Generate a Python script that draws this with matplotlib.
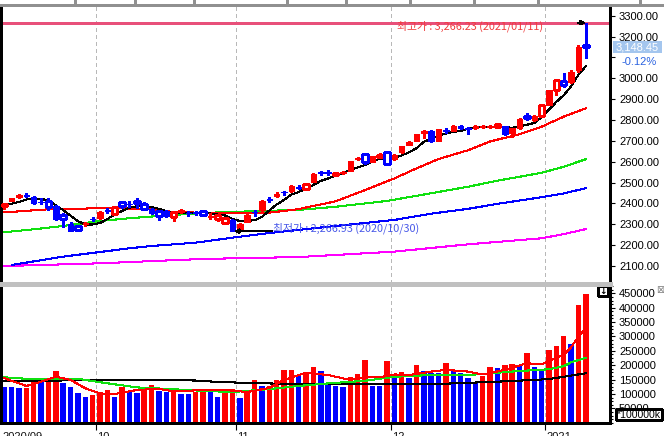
import matplotlib
matplotlib.use("Agg")
import matplotlib.pyplot as plt
import numpy as np
from matplotlib.patches import Rectangle
from matplotlib.lines import Line2D
from matplotlib.ticker import FuncFormatter, MultipleLocator
from matplotlib import transforms as mtransforms

# ---------------- data ----------------
month_labels = ['2020/09', '10', '11', '12', '2021']
month_counts = [13, 19, 21, 21, 6]

open_ = [2386, 2413, 2431, 2441, 2432, 2408, 2410, 2388, 2345, 2300,
         2293, 2302, 2327, 2329, 2368, 2348, 2405, 2398, 2413, 2397,
         2373, 2364, 2359, 2336, 2360, 2354, 2357, 2365, 2336, 2327,
         2308, 2321, 2273, 2313, 2359, 2368, 2420, 2436, 2456, 2459,
         2480, 2469, 2505, 2550, 2552, 2537, 2544, 2557, 2612, 2637,
         2600, 2621, 2648, 2612, 2645, 2680, 2701, 2736, 2746, 2701,
         2750, 2749, 2770, 2763, 2760, 2767, 2768, 2765, 2771, 2736,
         2760, 2819, 2800, 2820, 2874, 2943, 2988, 2980, 3040, 3161.90]
high = [2398, 2427, 2447, 2449, 2437, 2424, 2424, 2393, 2355, 2312,
        2294, 2312, 2334, 2362, 2378, 2388, 2407, 2410, 2424, 2405,
        2378, 2369, 2369, 2360, 2375, 2365, 2366, 2370, 2353, 2350,
        2333, 2324, 2305, 2347, 2368, 2415, 2430, 2455, 2462, 2487,
        2490, 2495, 2545, 2556, 2558, 2552, 2556, 2605, 2625, 2640,
        2628, 2640, 2650, 2636, 2677, 2698, 2734, 2750, 2750, 2757,
        2762, 2775, 2775, 2766, 2775, 2775, 2777, 2785, 2773, 2762,
        2808, 2834, 2823, 2875, 2946, 2994, 3024, 3040, 3161, 3266.23]
low = [2372, 2410, 2425, 2431, 2398, 2395, 2370, 2320, 2285, 2268,
       2270, 2293, 2318, 2327, 2352, 2343, 2378, 2385, 2380, 2370,
       2348, 2320, 2336, 2318, 2355, 2339, 2345, 2340, 2324, 2318,
       2305, 2266.93, 2270, 2310, 2340, 2366, 2405, 2432, 2440, 2457,
       2470, 2465, 2503, 2537, 2535, 2530, 2540, 2555, 2608, 2590,
       2598, 2618, 2588, 2610, 2643, 2678, 2699, 2715, 2694, 2699,
       2738, 2747, 2755, 2733, 2757, 2760, 2760, 2762, 2729, 2720,
       2758, 2800, 2797, 2815, 2870, 2921, 2960, 2975, 3030, 3096.19]
close = [2396, 2425, 2442, 2436, 2404, 2405, 2384, 2324, 2324, 2269,
         2273, 2305, 2324, 2360, 2365, 2384, 2389, 2396, 2401, 2375,
         2355, 2341, 2343, 2357, 2370, 2352, 2355, 2344, 2339, 2345,
         2329, 2267.15, 2300, 2343, 2357, 2413, 2416, 2447, 2453, 2485,
         2476, 2492, 2541, 2545, 2547, 2547, 2553, 2603, 2617, 2601,
         2626, 2632, 2591, 2633, 2673, 2696, 2731, 2745, 2700, 2755,
         2746, 2770, 2763, 2757, 2772, 2771, 2772, 2779, 2734, 2760,
         2806, 2808, 2820, 2873, 2944, 2991, 2968, 3031, 3152.18, 3148.45]
# candle drawn hollow (1) or filled (0), as seen
hollow = [1, 0, 0, 0, 0, 0, 1, 0, 1, 0,
          1, 0, 0, 0, 0, 1, 1, 0, 1, 1,
          0, 1, 1, 1, 0, 0, 0, 1, 0, 1,
          1, 0, 0, 0, 0, 0, 0, 0, 0, 0,
          0, 1, 0, 0, 0, 1, 0, 0, 0, 1,
          0, 1, 1, 0, 0, 0, 0, 0, 0, 0,
          0, 0, 0, 0, 0, 0, 0, 1, 0, 0,
          0, 1, 0, 1, 0, 1, 1, 0, 0, 1]
# volume (thousands)
volume = [124, 123, 121, 122, 143, 142, 143, 181, 138, 124,
          103, 91, 97, 107, 114, 91, 125, 109, 104, 110,
          131, 111, 107, 120, 100, 99, 107, 119, 114, 91,
          104, 119, 86, 110, 150, 128, 129, 150, 182, 185,
          166, 173, 195, 180, 139, 128, 124, 159, 170, 218,
          128, 127, 215, 159, 177, 157, 201, 180, 173, 172,
          208, 181, 173, 156, 139, 163, 194, 190, 201, 204,
          201, 243, 194, 181, 253, 267, 302, 274, 409, 448]

# price moving averages
ma5 = [2391, 2399, 2407, 2419, 2421, 2422, 2414, 2391, 2368, 2341,
       2315, 2299, 2299, 2306, 2325, 2348, 2364, 2379, 2387, 2389,
       2383, 2374, 2363, 2354, 2353, 2353, 2355, 2356, 2352, 2347,
       2342, 2325, 2316, 2317, 2319, 2336, 2366, 2395, 2417, 2443,
       2455, 2471, 2489, 2508, 2520, 2534, 2547, 2559, 2573, 2584,
       2600, 2616, 2613, 2617, 2631, 2645, 2665, 2696, 2709, 2725,
       2735, 2743, 2747, 2758, 2762, 2767, 2767, 2770, 2766, 2763,
       2770, 2777, 2786, 2813, 2850, 2887, 2919, 2961, 3017, 3058]
ma20_at = [0, 6, 13, 19, 22, 26, 31, 36, 38, 40, 42, 45, 49, 53, 56, 59, 63, 66, 70, 73, 76, 79]
ma20 = [2357, 2372, 2377, 2375, 2362, 2356, 2356, 2356, 2364, 2373, 2388, 2410,
        2464, 2520, 2568, 2613, 2655, 2697, 2732, 2768, 2816, 2856]
ma60_at = [0, 4, 8, 13, 17, 21, 26, 29, 35, 40, 45, 52, 58, 63, 67, 73, 76, 79]
ma60 = [2262, 2276, 2292, 2316, 2329, 2340, 2352, 2357, 2364, 2369, 2384, 2412,
        2449, 2480, 2509, 2547, 2576, 2612]
ma120_at = [1, 8, 17, 20, 26, 31, 36, 41, 45, 53, 58, 63, 67, 73, 76, 79]
ma120 = [2105, 2145, 2185, 2196, 2212, 2236, 2258, 2277, 2292, 2321, 2351, 2374,
         2398, 2430, 2448, 2473]
ma240_at = [0, 13, 27, 40, 53, 63, 73, 76, 79]
ma240 = [2100, 2113, 2134, 2143, 2169, 2204, 2233, 2253, 2277]

# volume moving averages (thousands)
vma5_at = [0, 3, 5, 7, 9, 11, 13, 15, 18, 21, 23, 27, 30, 33, 36, 38, 41, 44, 47,
           49, 51, 53, 55, 58, 60, 63, 65, 68, 71, 73, 74, 75, 76, 77, 78, 79]
vma5 = [155, 128, 143, 160, 149, 120, 102, 100, 114, 118, 109, 114, 114, 107, 121,
        149, 174, 166, 149, 158, 158, 168, 166, 178, 184, 178, 168, 184, 207, 203,
        214, 226, 236, 262, 300, 330]
vma20_at = [0, 3, 10, 13, 18, 22, 27, 31, 36, 40, 44, 49, 53, 58, 63, 66, 70, 74, 76, 77, 79]
vma20 = [158, 153, 153, 141, 123, 118, 111, 107, 117, 128, 137, 146, 160, 166, 166,
         172, 180, 186, 197, 210, 226]
vma60_at = [0, 15, 26, 29, 35, 44, 53, 60, 63, 67, 72, 74, 76, 79]
vma60 = [145, 149, 147, 142, 137, 134, 136, 136, 139, 143, 149, 152, 160, 172]

hi_date = '2021/01/11'
lo_date = '2020/10/30'

# ---------------- style ----------------
plt.rcParams['font.family'] = ['Liberation Sans', 'DejaVu Sans']
plt.rcParams['lines.antialiased'] = False
plt.rcParams['patch.antialiased'] = False
RED = '#ff0000'
BLUE = '#0000ff'
KR = ['Noto Sans CJK KR', 'DejaVu Sans']

W, H = 664, 436
fig = plt.figure(figsize=(W / 100, H / 100), dpi=100)
fig.patch.set_facecolor('white')


def fx(p):
    return p / W


ax = fig.add_axes([fx(1), 1 - 283 / H, fx(609), (283 - 5) / H])
axv = fig.add_axes([fx(1), 1 - 423 / H, fx(609), (423 - 285) / H])

n = len(close)
idx = np.arange(n)
XL = (-0.45, 82.29)
last = close[-1]
chg = (close[-1] / close[-2] - 1) * 100

starts = np.concatenate([[0], np.cumsum(month_counts)[:-1]])
bounds = starts[1:] - 0.5

for a in (ax, axv):
    for b in bounds:
        a.axvline(b, color='#b8b8b8', lw=0.75, ls=(0, (3, 3)), zorder=0.5)

# moving averages (price)
ax.plot(ma240_at, ma240, color='#ff00ff', lw=0.75, zorder=2)
ax.plot(ma120_at, ma120, color=BLUE, lw=0.75, zorder=2)
ax.plot(ma60_at, ma60, color='#10e010', lw=0.75, zorder=2)
ax.plot(ma20_at, ma20, color=RED, lw=0.75, zorder=2)
ax.plot(idx, ma5, color='black', lw=0.75, zorder=2)

# candles
w = 0.74
for i in range(n):
    o, h, l, c = open_[i], high[i], low[i], close[i]
    col = RED if c >= o else BLUE
    top, bot = max(o, c), min(o, c)
    if hollow[i]:
        ax.vlines(i, top, h, color=col, lw=0.75, zorder=3)
        ax.vlines(i, l, bot, color=col, lw=0.75, zorder=3)
        ax.add_patch(Rectangle((i - w / 2, bot), w, top - bot, facecolor='white',
                               edgecolor=col, lw=0.75, zorder=3.5))
    else:
        ax.vlines(i, l, h, color=col, lw=0.75, zorder=3)
        ax.add_patch(Rectangle((i - w / 2, bot), w, top - bot, facecolor=col,
                               edgecolor=col, lw=0.6, zorder=3.5))

# highest / lowest markers
hi = max(high)
hi_i = int(np.argmax(high))
lo = min(low)
lo_i = int(np.argmin(low))
ax.axhline(hi, color='#e8507a', lw=0.9, zorder=1.5)
ax.annotate('', xy=(hi_i - 0.1, hi), xytext=(hi_i - 1.0, hi),
            arrowprops=dict(arrowstyle='->', color='black', lw=0.8,
                            shrinkA=0, shrinkB=0, mutation_scale=6), zorder=4)
ax.annotate(f'최고가 : {hi:,.2f} ({hi_date})', xy=(hi_i, hi), xytext=(-43, -3.5),
            textcoords='offset pixels', ha='right', va='center', fontsize=7.8,
            color='#f03c3c', family=KR, zorder=4)
ax.annotate('', xy=(lo_i + 0.3, lo), xytext=(lo_i + 5.3, lo),
            arrowprops=dict(arrowstyle='->', color='black', lw=0.9,
                            shrinkA=0, shrinkB=0, mutation_scale=6), zorder=4)
ax.annotate(f'최저가 : {lo:,.2f} ({lo_date})', xy=(lo_i + 5.3, lo), xytext=(2, 2.5),
            textcoords='offset pixels', ha='left', va='center', fontsize=7.8,
            color='#4858e8', family=KR, zorder=4)

# price axis (labels hidden where the price tag and change text sit)
ax.set_xlim(*XL)
ax.set_ylim(2018.6, 3351.3)
ax.yaxis.tick_right()
ax.set_yticks(np.arange(2100, 3301, 100))
ax.yaxis.set_major_formatter(FuncFormatter(
    lambda v, p: '' if (last - 100 < v < last + 30) else f'{v:.2f}'))
ax.tick_params(axis='y', which='major', direction='out', length=3.5, width=0.8,
               pad=3, labelsize=8, colors='black')
ax.tick_params(axis='x', bottom=False, labelbottom=False)
for s in ('left', 'right'):
    ax.spines[s].set_color('black')
    ax.spines[s].set_linewidth(0.8)
ax.spines['top'].set_color('#909090')
ax.spines['top'].set_linewidth(0.8)
ax.spines['bottom'].set_visible(False)

# current price tag
trans = mtransforms.blended_transform_factory(ax.transAxes, ax.transData)
ax.add_patch(Rectangle((1 + 3 / 609, last - 6 * 4.794), 49 / 609, 12 * 4.794,
                       transform=trans, facecolor='#a4c6ee', edgecolor='none',
                       clip_on=False, zorder=5))
ax.annotate(f'{last:,.2f}', xy=(1, last), xycoords=trans, xytext=(27.5, 0),
            textcoords='offset pixels', ha='center', va='center', fontsize=8,
            color='white', zorder=6, annotation_clip=False)
ax.annotate(f'{chg:.2f}%', xy=(1, last), xycoords=trans, xytext=(47, -14.5),
            textcoords='offset pixels', ha='right', va='center', fontsize=8,
            color='#2a62e0', zorder=6, annotation_clip=False)

# volume panel
vcol = [BLUE] + [RED if volume[i] > volume[i - 1] else BLUE for i in range(1, n)]
axv.bar(idx, np.array(volume) * 1000, width=0.74, color=vcol, zorder=2)
axv.plot(vma60_at, np.array(vma60) * 1000, color='black', lw=0.75, zorder=3)
axv.plot(vma20_at, np.array(vma20) * 1000, color='#10e010', lw=0.75, zorder=3)
axv.plot(vma5_at, np.array(vma5) * 1000, color=RED, lw=0.75, zorder=3)

axv.set_xlim(*XL)
axv.set_ylim(-700, 478900)
axv.yaxis.tick_right()
axv.set_yticks(np.arange(50000, 450001, 50000))
axv.yaxis.set_major_formatter(FuncFormatter(lambda v, p: f'{int(v)}'))
axv.yaxis.set_minor_locator(MultipleLocator(12500))
axv.tick_params(axis='y', which='major', direction='out', length=3.5, width=0.8,
                pad=3, labelsize=8, colors='black')
axv.tick_params(axis='y', which='minor', direction='out', length=2, width=0.8)
axv.set_xticks(bounds)
axv.set_xticklabels([])
axv.tick_params(axis='x', direction='out', length=5, width=0.8)
for s in ('left', 'right', 'bottom'):
    axv.spines[s].set_color('black')
    axv.spines[s].set_linewidth(0.8)
axv.spines['top'].set_visible(False)

# month labels (cut by the bottom edge as in the original)
label_pos = [XL[0]] + list(bounds)
for lab, xp in zip(month_labels, label_pos):
    axv.annotate(lab, xy=(xp, 0), xycoords=('data', 'axes fraction'),
                 xytext=(1, -9), textcoords='offset pixels', ha='left', va='top',
                 fontsize=8, color='#101010', annotation_clip=False)

# multiplier box & small icons
axv.annotate('*100000k', xy=(1, 0), xycoords='axes fraction', xytext=(29, 8.5),
             textcoords='offset pixels', ha='center', va='center', fontsize=7.6,
             color='black', zorder=6, annotation_clip=False,
             bbox=dict(boxstyle='square,pad=0.08', facecolor='white',
                       edgecolor='black', lw=0.8))
axv.annotate('\u2193', xy=(1, 1), xycoords='axes fraction', xytext=(-7, -6),
             textcoords='offset pixels', ha='center', va='center', fontsize=6.5,
             family=['DejaVu Sans'], color='black', fontweight='bold', zorder=6,
             annotation_clip=False,
             bbox=dict(boxstyle='square,pad=0.1', facecolor='white',
                       edgecolor='black', lw=0.8))
axv.annotate('⊠', xy=(1, 1), xycoords='axes fraction', xytext=(50.5, -4.5),
             textcoords='offset pixels', ha='center', va='center', fontsize=7,
             family=['DejaVu Sans'], color='#808080', zorder=6, annotation_clip=False)

# panel separator and top strip
fig.add_artist(Line2D([0, fx(610)], [1 - 284 / H, 1 - 284 / H], color='#c0c0c0', lw=2.2))
fig.add_artist(Line2D([0, 1], [1 - 5 / H, 1 - 5 / H], color='#909090', lw=0.8))
for px in (74.5, 134.6, 194.4, 286.7, 346.4, 410, 474.3, 538, 640):
    fig.add_artist(Line2D([fx(px), fx(px)], [1, 1 - 5 / H], color='#909090', lw=0.8))

fig.savefig('out.png', dpi=100)
